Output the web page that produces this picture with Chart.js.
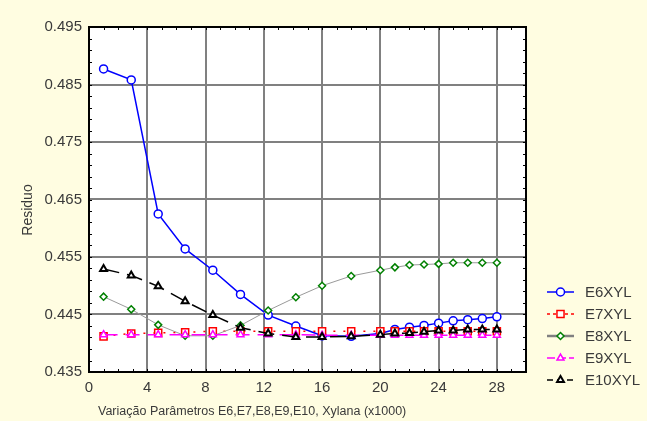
<!DOCTYPE html>
<html>
<head>
<meta charset="utf-8">
<script src="https://cdn.jsdelivr.net/npm/chart.js@4/dist/chart.umd.min.js"></script>
<style>
  html, body { margin: 0; padding: 0; background: #fffde1; overflow: hidden; }
  #wrap { width: 647px; height: 421px; position: relative; }
  canvas { display: block; }
</style>
</head>
<body>
<div id="wrap"><canvas id="c" width="647" height="421"></canvas></div>
<script>
// Parameter variation (x1000)
const xValues = [1, 2.9, 4.75, 6.6, 8.5, 10.4, 12.3, 14.2, 16, 18, 20, 21, 22, 23, 24, 25, 26, 27, 28];

// Residual for each parameter set
const e6xyl  = [0.4877, 0.4858, 0.4625, 0.4564, 0.4527, 0.4485, 0.4449, 0.4430, 0.4413, 0.4412, 0.4417, 0.4424, 0.4428, 0.4431, 0.4435, 0.4439, 0.4441, 0.4443, 0.4446];
const e7xyl  = [0.4412, 0.4417, 0.4418, 0.4419, 0.4421, 0.4421, 0.4421, 0.4421, 0.4421, 0.4421, 0.4421, 0.4421, 0.4421, 0.4421, 0.4421, 0.4421, 0.4421, 0.4421, 0.4421];
const e8xyl  = [0.4481, 0.4459, 0.4432, 0.4413, 0.4413, 0.4431, 0.4457, 0.4480, 0.4500, 0.4517, 0.4527, 0.4532, 0.4536, 0.4537, 0.4538, 0.4540, 0.4540, 0.4540, 0.4540];
const e9xyl  = [0.4415, 0.4415, 0.4415, 0.4415, 0.4415, 0.4415, 0.4415, 0.4415, 0.4414, 0.4414, 0.4414, 0.4414, 0.4414, 0.4414, 0.4414, 0.4414, 0.4414, 0.4414, 0.4414];
const e10xyl = [0.4529, 0.4518, 0.4499, 0.4473, 0.4449, 0.4427, 0.4417, 0.4411, 0.4411, 0.4412, 0.4415, 0.4417, 0.4418, 0.4420, 0.4422, 0.4422, 0.4424, 0.4424, 0.4424];

const seriesNames = ['E6XYL', 'E7XYL', 'E8XYL', 'E9XYL', 'E10XYL'];
const xTicks = [0, 4, 8, 12, 16, 20, 24, 28];
const yTicks = [0.435, 0.445, 0.455, 0.465, 0.475, 0.485, 0.495];

const xAxisTitle = 'Variação Parâmetros E6,E7,E8,E9,E10, Xylana (x1000)';
const yAxisTitle = 'Residuo';

const toPoints = arr => arr.map((y, i) => ({ x: xValues[i], y }));

const TEXT = '#3a3a3a';
const GRID = '#808080';
const FONT = '"Liberation Sans", Arial, sans-serif';

// Frame, inward minor ticks, axis titles and the side legend
const decorations = {
  id: 'decorations',
  afterDraw(chart) {
    const { ctx, chartArea: a, scales: { x, y } } = chart;
    ctx.save();
    ctx.strokeStyle = '#000';
    ctx.lineWidth = 1;
    ctx.beginPath();
    // minor ticks on x (every 1 unit)
    for (let v = x.min; v <= x.max; v += 1) {
      const px = Math.round(x.getPixelForValue(v)) + 0.5;
      ctx.moveTo(px, a.bottom); ctx.lineTo(px, a.bottom - 3);
      ctx.moveTo(px, a.top); ctx.lineTo(px, a.top + 3);
    }
    // minor ticks on y (every 0.002)
    for (let k = 0; k <= 30; k++) {
      const v = y.min + k * 0.002;
      const py = Math.round(y.getPixelForValue(v)) + 0.5;
      ctx.moveTo(a.left, py); ctx.lineTo(a.left + 3, py);
      ctx.moveTo(a.right, py); ctx.lineTo(a.right - 3, py);
    }
    ctx.stroke();
    ctx.lineWidth = 2;
    ctx.strokeRect(a.left, a.top, a.right - a.left, a.bottom - a.top);

    // axis titles
    ctx.fillStyle = TEXT;
    ctx.font = '12.5px ' + FONT;
    ctx.textAlign = 'left';
    ctx.textBaseline = 'middle';
    ctx.fillText(xAxisTitle, 98, 412);

    ctx.save();
    ctx.translate(28, 210);
    ctx.rotate(-Math.PI / 2);
    ctx.font = '14px ' + FONT;
    ctx.textAlign = 'center';
    ctx.fillText(yAxisTitle, 0, 0);
    ctx.restore();

    // legend
    const lx0 = 547, lx1 = 574, tx = 585, ly0 = 292, dy = 22;
    chart.data.datasets.forEach((ds, i) => {
      const yy = ly0 + i * dy;
      ctx.save();
      ctx.strokeStyle = ds.legendLine || ds.borderColor;
      ctx.lineWidth = ds.legendWidth || 1.5;
      ctx.setLineDash(ds.legendDash || []);
      ctx.beginPath();
      ctx.moveTo(lx0, yy); ctx.lineTo(lx1, yy);
      ctx.stroke();
      ctx.restore();
      ctx.save();
      ctx.strokeStyle = ds.pointBorderColor;
      ctx.fillStyle = ds.pointBackgroundColor;
      ctx.lineWidth = ds.pointBorderWidth;
      Chart.helpers.drawPoint(ctx, { pointStyle: ds.pointStyle, radius: ds.pointRadius, rotation: 0, borderWidth: ds.pointBorderWidth }, (lx0 + lx1) / 2, yy);
      ctx.restore();
      ctx.fillStyle = TEXT;
      ctx.font = '15px ' + FONT;
      ctx.textAlign = 'left';
      ctx.textBaseline = 'middle';
      ctx.fillText(ds.label, tx, yy + 1);
    });
    ctx.restore();
  }
};

const plotBackground = {
  id: 'plotBackground',
  beforeDraw(chart) {
    const { ctx, chartArea: a } = chart;
    ctx.save();
    ctx.fillStyle = '#fffde1';
    ctx.fillRect(0, 0, chart.width, chart.height);
    ctx.fillStyle = '#ffffff';
    ctx.fillRect(a.left, a.top, a.right - a.left, a.bottom - a.top);
    ctx.restore();
  }
};

new Chart(document.getElementById('c'), {
  type: 'line',
  data: {
    datasets: [
      {
        label: seriesNames[0], data: toPoints(e6xyl), order: 5,
        borderColor: '#0000ff', borderWidth: 1.5,
        pointStyle: 'circle', pointRadius: 4, pointBorderWidth: 1.5,
        pointBorderColor: '#0000ff', pointBackgroundColor: '#ffffff'
      },
      {
        label: seriesNames[1], data: toPoints(e7xyl), order: 4,
        borderColor: '#ff0000', borderWidth: 1.5, borderDash: [2, 8], legendDash: [3, 3],
        pointStyle: 'rect', pointRadius: 5, pointBorderWidth: 1.5,
        pointBorderColor: '#ff0000', pointBackgroundColor: '#ffffff'
      },
      {
        label: seriesNames[2], data: toPoints(e8xyl), order: 3,
        borderColor: '#9a9a9a', borderWidth: 1, legendWidth: 2.5, legendLine: '#808080',
        pointStyle: 'rectRot', pointRadius: 3.5, pointBorderWidth: 1.5,
        pointBorderColor: '#008000', pointBackgroundColor: '#ffffff'
      },
      {
        label: seriesNames[3], data: toPoints(e9xyl), order: 2,
        borderColor: '#ff00ff', borderWidth: 1.5, borderDash: [14, 8], legendDash: [8, 3],
        pointStyle: 'triangle', pointRadius: 4, pointBorderWidth: 1.5,
        pointBorderColor: '#ff00ff', pointBackgroundColor: '#ffffff'
      },
      {
        label: seriesNames[4], data: toPoints(e10xyl), order: 1,
        borderColor: '#000000', borderWidth: 1.5, borderDash: [16, 8], legendDash: [6, 4],
        pointStyle: 'triangle', pointRadius: 4, pointBorderWidth: 2,
        pointBorderColor: '#000000', pointBackgroundColor: '#ffffff'
      }
    ]
  },
  options: {
    responsive: false,
    animation: false,
    devicePixelRatio: 1,
    layout: { padding: { top: 27, right: 121, left: 0, bottom: 0 } },
    plugins: { legend: { display: false }, tooltip: { enabled: false } },
    elements: { line: { tension: 0 } },
    scales: {
      x: {
        type: 'linear', min: 0, max: 30,
        afterBuildTicks: s => { s.ticks = xTicks.map(v => ({ value: v })); },
        afterFit: s => { s.height = 49; },
        ticks: { color: TEXT, font: { size: 15, family: FONT }, padding: 7, maxRotation: 0 },
        grid: { color: c => (c.tick && c.tick.value === 0) ? 'rgba(0,0,0,0)' : GRID, lineWidth: 2, drawTicks: false },
        border: { display: false }
      },
      y: {
        type: 'linear', min: 0.435, max: 0.495,
        afterBuildTicks: s => { s.ticks = yTicks.map(v => ({ value: v })); },
        afterFit: s => { s.width = 89; },
        ticks: { color: TEXT, font: { size: 15, family: FONT }, padding: 7, callback: v => v.toFixed(3) },
        grid: { color: c => (c.tick && (c.tick.value === 0.435 || c.tick.value === 0.495)) ? 'rgba(0,0,0,0)' : GRID, lineWidth: 2, drawTicks: false },
        border: { display: false }
      }
    }
  },
  plugins: [plotBackground, decorations]
});
</script>
</body>
</html>
